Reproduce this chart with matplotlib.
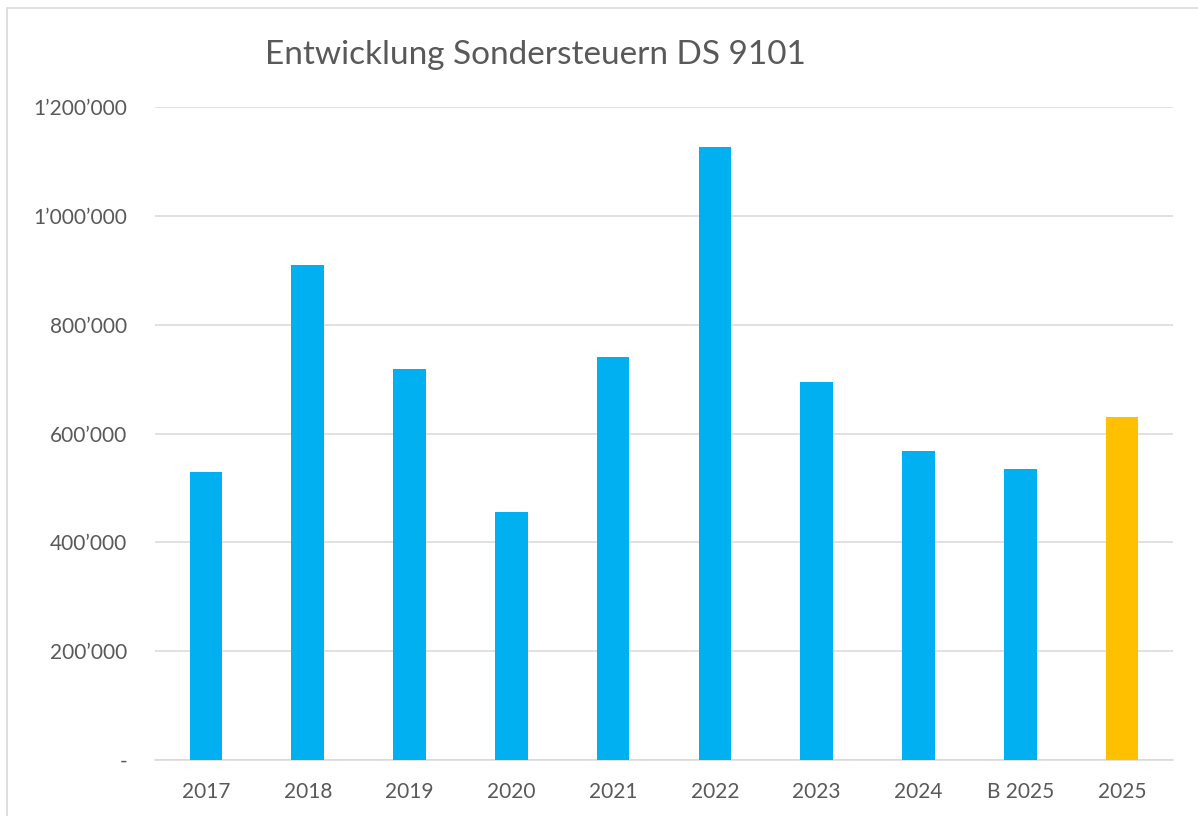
import matplotlib
matplotlib.use("Agg")
import matplotlib.pyplot as plt
from matplotlib.patches import Rectangle
from matplotlib.ticker import FuncFormatter

plt.rcParams["font.family"] = ["Lato", "DejaVu Sans"]

# values
categories = ["2017", "2018", "2019", "2020", "2021", "2022", "2023", "2024", "B 2025", "2025"]
values = [530000, 910000, 718000, 455000, 740000, 1127000, 694000, 567000, 534000, 630000]
colors = ["#00B0F0"] * 9 + ["#FFC000"]
y_ticks = [0, 200000, 400000, 600000, 800000, 1000000, 1200000]

TEXT = "#595959"
GRID = "#D9D9D9"


def fmt(v, _pos):
    if v == 0:
        return "-"
    return f"{int(v):,}".replace(",", "\u2019")


fig = plt.figure(figsize=(11.98, 8.16), dpi=100)
ax = fig.add_axes([155 / 1198, 1 - 760 / 816, (1173 - 155) / 1198, (760 - 107) / 816])

x = range(len(categories))
ax.bar(x, values, width=0.32, color=colors, zorder=3)

ax.set_xlim(-0.5, len(categories) - 0.5)
ax.set_ylim(0, 1200000)
ax.set_yticks(y_ticks)
ax.yaxis.set_major_formatter(FuncFormatter(fmt))
ax.set_xticks(list(x))
ax.set_xticklabels(categories)

ax.grid(axis="y", color=GRID, lw=1.1, zorder=0)
for s in ("top", "right", "left"):
    ax.spines[s].set_visible(False)
ax.spines["bottom"].set_color(GRID)
ax.spines["bottom"].set_linewidth(1.1)
ax.tick_params(length=0, colors=TEXT, labelsize=15)
ax.tick_params(axis="y", pad=20)
ax.tick_params(axis="x", pad=16)

fig.text(535 / 1198, 1 - 55 / 816, "Entwicklung Sondersteuern DS 9101",
         ha="center", va="center", fontsize=24, color=TEXT)

# outer chart border
fig.patches.append(Rectangle((7 / 1198, -0.02), 1.05, 1 - 8 / 816 + 0.02,
                             transform=fig.transFigure, fill=False,
                             edgecolor=GRID, lw=1.2))

fig.savefig("out.png", dpi=100)
